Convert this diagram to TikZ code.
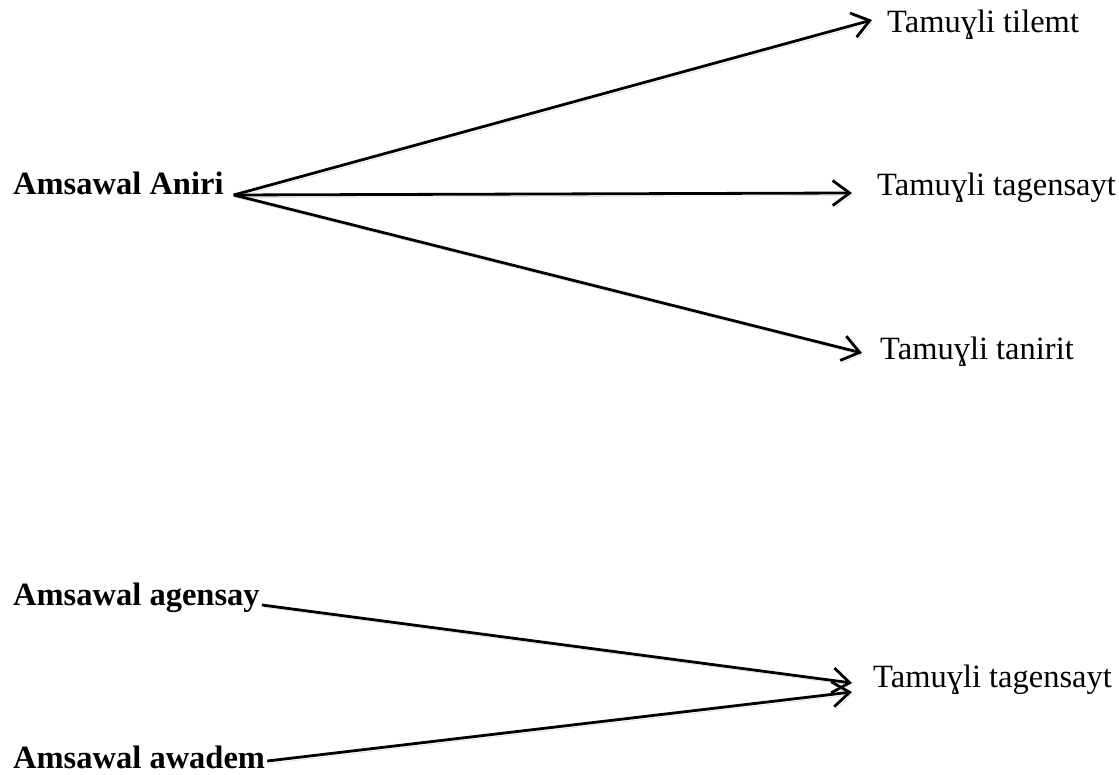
\documentclass[tikz,border=0pt]{standalone}
\usepackage{fontspec}
\setmainfont{Liberation Serif}
\usepackage{tikz}
\usetikzlibrary{arrows.meta}

\begin{document}
\begin{tikzpicture}[x=1pt,y=1pt,
    src/.style={font=\fontsize{32.5}{38}\selectfont\bfseries,inner sep=0pt,anchor=base west},
    dst/.style={font=\fontsize{32.5}{38}\selectfont,inner sep=0pt,anchor=base west},
    arr/.style={-{Straight Barb[length=17pt,width=25pt]},line width=2.8pt,
        preaction={draw=black!18,transform canvas={shift={(2pt,-2.5pt)}}}}]
    \useasboundingbox (0,0) rectangle (1119,774);

    % Amsawal Aniri
    \node[src] (aniri) at (13,579) {Amsawal Aniri};
    \node[dst] (tilemt) at (887,741) {Tamuɣli tilemt};
    \node[dst] (tagensayt) at (877,578) {Tamuɣli tagensayt};
    \node[dst] (tanirit) at (880,414) {Tamuɣli tanirit};

    \draw[arr] ([xshift=10pt]aniri.base east) -- ([shift={(-15pt,13pt)}]tilemt.base west);
    \draw[arr] ([xshift=10pt]aniri.base east) -- ([shift={(-25pt,3pt)}]tagensayt.base west);
    \draw[arr] ([xshift=10pt]aniri.base east) -- ([shift={(-18pt,7pt)}]tanirit.base west);

    % Amsawal agensay / awadem
    \node[src] (agensay) at (13,168) {Amsawal agensay};
    \node[src] (awadem) at (13,6) {Amsawal awadem};
    \node[dst] (tagensayt2) at (873,87) {Tamuɣli tagensayt};

    \draw[arr] ([shift={(2pt,1pt)}]agensay.base east) -- ([shift={(-21pt,4pt)}]tagensayt2.base west);
    \draw[arr] ([shift={(2pt,7pt)}]awadem.base east) -- ([shift={(-21pt,-5pt)}]tagensayt2.base west);
\end{tikzpicture}
\end{document}
